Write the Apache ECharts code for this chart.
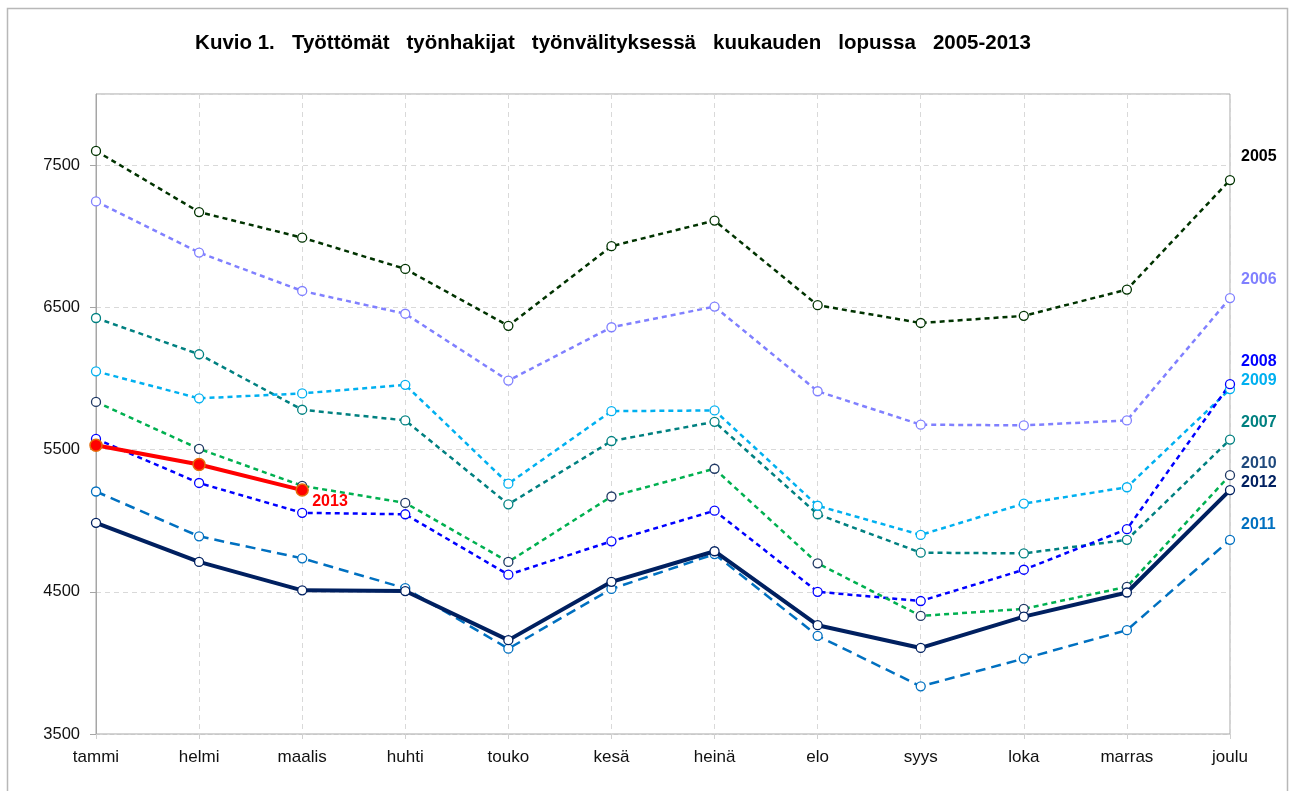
<!DOCTYPE html>
<html>
<head>
<meta charset="utf-8">
<script src="https://cdn.jsdelivr.net/npm/echarts@6/dist/echarts.min.js"></script>
<style>
  html, body { margin: 0; padding: 0; background: #fff; }
  #chart { width: 1290px; height: 791px; }
</style>
</head>
<body>
<div id="chart"></div>
<script>
// kuukaudet
const months = ['tammi', 'helmi', 'maalis', 'huhti', 'touko', 'kesä', 'heinä', 'elo', 'syys', 'loka', 'marras', 'joulu'];

// työttömät työnhakijat vuosittain
const y2005 = [7600, 7170, 6990, 6770, 6370, 6930, 7110, 6515, 6390, 6440, 6625, 7395];
const y2006 = [7245, 6885, 6615, 6455, 5985, 6360, 6505, 5910, 5675, 5670, 5705, 6565];
const y2007 = [6425, 6170, 5780, 5705, 5115, 5560, 5695, 5045, 4775, 4770, 4865, 5570];
const y2008 = [5575, 5265, 5055, 5045, 4620, 4855, 5070, 4500, 4435, 4655, 4940, 5960];
const y2009 = [6050, 5860, 5895, 5955, 5260, 5770, 5775, 5105, 4900, 5120, 5235, 5925];
const y2010 = [5835, 5505, 5245, 5125, 4710, 5170, 5365, 4700, 4330, 4380, 4535, 5320];
const y2011 = [5205, 4890, 4735, 4525, 4100, 4520, 4765, 4190, 3835, 4030, 4230, 4865];
const y2012 = [4985, 4710, 4510, 4505, 4160, 4570, 4785, 4265, 4105, 4325, 4495, 5215];
const y2013 = [5530, 5395, 5215];

const yTicks = [3500, 4500, 5500, 6500, 7500];

const chartDom = document.getElementById('chart');
const myChart = echarts.init(chartDom);

const font = 'Liberation Sans, Arial, sans-serif';

// dashed line series with open markers, label at the right side
const mkSeries = (name, data, color, opts) => {
  const o = opts || {};
  return {
    name,
    type: 'line',
    data,
    z: o.z || 2,
    symbol: 'circle',
    symbolSize: o.symbolSize || 9,
    showSymbol: true,
    lineStyle: {
      color: o.lineColor || color,
      width: o.width || 2.5,
      type: o.dash || [5, 4]
    },
    itemStyle: {
      color: o.fill || '#ffffff',
      borderColor: o.markColor || color,
      borderWidth: o.borderWidth || 1.3
    },
    endLabel: {
      show: true,
      formatter: name,
      color: o.labelColor || color,
      fontFamily: font,
      fontWeight: 'bold',
      fontSize: 16,
      distance: o.labelDist || 11,
      offset: o.labelOffset || [0, 0]
    },
    emphasis: { disabled: true },
    animation: false
  };
};

const option = {
  animation: false,
  title: {
    text: 'Kuvio 1.   Työttömät   työnhakijat   työnvälityksessä   kuukauden   lopussa   2005-2013',
    left: 608,
    textAlign: 'center',
    top: 28,
    textStyle: {
      fontFamily: font,
      fontWeight: 'bold',
      fontSize: 20.5,
      color: '#000'
    }
  },
  graphic: [
    {
      type: 'rect',
      shape: { x: 7.5, y: 8.5, width: 1280, height: 800 },
      style: { fill: 'none', stroke: '#b8b8b8', lineWidth: 1.5 },
      silent: true
    }
  ],
  grid: {
    left: 96,
    right: 60,
    top: 94,
    bottom: 57,
    show: true,
    borderColor: '#a6a6a6',
    borderWidth: 1
  },
  xAxis: {
    type: 'category',
    data: months,
    boundaryGap: false,
    axisLine: { lineStyle: { color: '#c8c8c8', type: [4, 3] } },
    axisTick: { show: true, length: 5, lineStyle: { color: '#d0d0d0' } },
    axisLabel: {
      color: '#111',
      fontFamily: font,
      fontSize: 17,
      margin: 15
    },
    splitLine: { show: true, lineStyle: { color: '#d9d9d9', type: [5, 4] } }
  },
  yAxis: {
    type: 'value',
    min: yTicks[0],
    max: 8000,
    interval: 1000,
    axisLine: { show: true, lineStyle: { color: '#a6a6a6' } },
    axisTick: { show: true, length: 6, lineStyle: { color: '#a6a6a6' } },
    axisLabel: {
      color: '#111',
      fontFamily: font,
      fontSize: 16.5,
      margin: 16,
      showMaxLabel: false,
      formatter: (v) => String(v)
    },
    splitLine: { show: true, lineStyle: { color: '#d9d9d9', type: [5, 4] } }
  },
  series: [
    mkSeries('2005', y2005, '#003300', { labelColor: '#000000', labelOffset: [0, -23] }),
    mkSeries('2006', y2006, '#8080ff', { labelOffset: [0, -18] }),
    mkSeries('2007', y2007, '#008080', { labelOffset: [0, -17] }),
    mkSeries('2009', y2009, '#00b0f0', { labelOffset: [0, -9] }),
    mkSeries('2008', y2008, '#0000ff', { labelOffset: [0, -23] }),
    mkSeries('2010', y2010, '#1f3864', { lineColor: '#00b050', labelColor: '#1f497d', labelOffset: [0, -12] }),
    mkSeries('2011', y2011, '#0070c0', { dash: [10, 6], labelOffset: [0, -15] }),
    mkSeries('2012', y2012, '#002060', { dash: 'solid', width: 4, z: 3, labelOffset: [0, -7] }),
    mkSeries('2013', y2013, '#ff0000', {
      dash: 'solid', width: 4, z: 4, symbolSize: 12,
      fill: '#ff0000', markColor: '#e46c0a', borderWidth: 1.5,
      labelDist: 10, labelOffset: [0, 12]
    })
  ]
};

myChart.setOption(option);
</script>
</body>
</html>
